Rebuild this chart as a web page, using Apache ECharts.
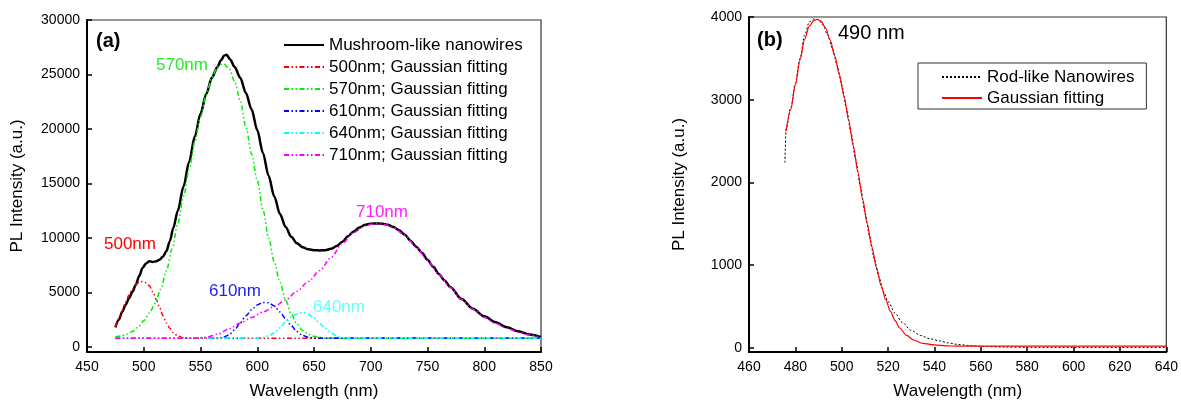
<!DOCTYPE html>
<html>
<head>
<meta charset="utf-8">
<script src="https://cdn.jsdelivr.net/npm/echarts@6/dist/echarts.min.js"></script>
<style>html,body{margin:0;padding:0;background:#fff}#c{width:1181px;height:405px}</style>
</head>
<body>
<div id="c"></div>
<script>
// ---- Panel (a) data ----
const mushroomX = [475,478,481,484,487,490,493,496,499,502,505,508,511,514,517,520,523,526,530,535,540,545,550,555,560,565,568,571,573,576,580,585,590,595,600,605,610,615,620,625,630,635,640,645,650,655,660,665,670,675,680,685,690,695,700,705,710,715,720,725,730,735,740,745,750,755,760,765,770,780,790,800,810,820,830,840,850];
const mushroomY = [1800,2500,3200,3850,4450,5050,5700,6500,7250,7650,7850,7800,7850,8000,8300,8800,9700,10900,12500,14700,17000,19300,21400,23200,24700,25700,26300,26750,26800,26400,25700,24700,23300,21800,19900,17800,15700,13800,12200,11000,10100,9500,9150,8950,8870,8850,8870,9000,9250,9650,10150,10600,10950,11200,11300,11330,11300,11200,11000,10700,10300,9750,9200,8650,8000,7350,6700,6100,5500,4400,3500,2800,2250,1800,1430,1130,900];
const fit500X = [475,478,481,484,487,490,493,496,499,502,505,508,511,514,517,520,523,526,530,535,540,850];
const fit500Y = [1800,2550,3350,4100,4750,5300,5700,5950,6000,5900,5600,5050,4350,3600,2850,2200,1700,1300,1000,830,800,800];
const fit570X = [475,480,485,490,495,500,505,510,515,520,525,530,535,540,545,550,555,560,565,570,575,580,585,590,595,600,605,610,615,620,625,630,635,640,645,650,655,660,670,680,850];
const fit570Y = [900,1000,1150,1400,1800,2400,3100,4000,5300,7000,9000,11300,13800,16300,18800,21100,23100,24700,25700,26000,25600,24400,22600,20200,17700,15300,12600,10000,7800,5900,4300,3000,2100,1500,1150,980,880,830,800,800,800];
const fit610X = [475,565,570,575,580,585,590,595,600,605,610,615,620,625,630,635,640,645,650,850];
const fit610Y = [800,800,880,1100,1550,2200,2850,3400,3850,4080,4050,3750,3200,2600,1950,1400,1050,880,800,800];
const fit640X = [475,600,605,610,615,620,625,630,635,640,645,650,655,660,665,670,675,680,850];
const fit640Y = [800,800,850,1000,1300,1750,2300,2750,3050,3150,3000,2650,2150,1700,1300,1000,850,800,800];
const fit710X = [475,545,555,565,575,585,595,605,615,625,635,645,655,665,675,685,695,700,705,710,715,720,730,740,750,760,770,780,790,800,810,820,830,840,850];
const fit710Y = [800,800,880,1150,1650,2200,2700,3200,3700,4300,5100,6000,7000,8200,9500,10500,11100,11250,11300,11280,11150,10950,10250,9150,7950,6650,5450,4350,3450,2700,2150,1700,1350,1080,880];
const seriesNamesA = ['Mushroom-like nanowires','500nm; Gaussian fitting','570nm; Gaussian fitting','610nm; Gaussian fitting','640nm; Gaussian fitting','710nm; Gaussian fitting'];
const yTicksA = [0,5000,10000,15000,20000,25000,30000];

// ---- Panel (b) data ----
const rodX = [475.5,476,478,480,482,484,486,488,490,492,494,496,498,500,502,504,506,508,510,512,514,516,518,520,523,526,530,534,538,542,546,550,555,560,570,580,600,620,640];
const rodY = [2240,2650,2900,3200,3500,3780,3940,3975,3970,3900,3780,3620,3420,3180,2900,2600,2280,1960,1640,1350,1080,860,680,560,420,310,210,150,110,85,60,42,28,18,10,7,5,5,5];
const fitBX = [476,478,480,482,484,486,488,489.5,491,493,495,497,499,501,503,505,507,509,511,513,515,517,519,521,523,525,528,531,535,540,545,550,560,640];
const fitBY = [2620,2880,3180,3480,3730,3890,3960,3970,3950,3870,3720,3530,3300,3040,2750,2440,2120,1800,1500,1220,970,750,580,440,330,240,150,95,55,35,25,20,20,20];
const seriesNamesB = ['Rod-like Nanowires','Gaussian fitting'];
const yTicksB = [0,1000,2000,3000,4000];

const FONT = "'Liberation Sans', Arial, sans-serif";
const zip = (xs, ys) => xs.map((x, i) => [x, ys[i]]);
const dashDotDot = [5, 2.5, 1.5, 2.5, 1.5, 2.5];

function xAxisCfg(gridIndex, min, max, interval) {
  return {
    type: 'value', gridIndex, min, max, interval,
    name: 'Wavelength (nm)', nameLocation: 'middle', nameGap: 31,
    nameTextStyle: { fontFamily: FONT, fontSize: 17, color: '#000' },
    axisLine: { onZero: false, lineStyle: { color: '#000', width: 2 } },
    axisTick: { inside: true, length: 5, lineStyle: { color: '#000', width: 1.5 } },
    axisLabel: { margin: 8, fontFamily: FONT, fontSize: 14, color: '#000' },
    splitLine: { show: false }
  };
}
function yAxisCfg(gridIndex, min, max, ticks) {
  return {
    type: 'value', gridIndex, min, max,
    name: 'PL Intensity (a.u.)', nameLocation: 'middle', nameGap: 61,
    nameTextStyle: { fontFamily: FONT, fontSize: 17, color: '#000' },
    axisLine: { show: true, onZero: false, lineStyle: { color: '#000', width: 2 } },
    axisTick: { show: true, inside: true, length: 5, customValues: ticks, lineStyle: { color: '#000', width: 1.5 } },
    axisLabel: { margin: 7, fontFamily: FONT, fontSize: 14, color: '#000', customValues: ticks, formatter: v => String(v) },
    splitLine: { show: false }
  };
}
function fitSeries(name, xs, ys, color) {
  return {
    name, type: 'line', xAxisIndex: 0, yAxisIndex: 0, data: zip(xs, ys),
    symbol: 'none', smooth: 0.3, smoothMonotone: 'x',
    lineStyle: { color, width: 1.5, type: dashDotDot }, itemStyle: { color }, z: 3
  };
}

const chart = echarts.init(document.getElementById('c'), null, { renderer: 'canvas' });
chart.setOption({
  animation: false,
  backgroundColor: '#fff',
  textStyle: { fontFamily: FONT },
  grid: [
    { left: 87, right: 640, top: 20, bottom: 52, show: true, borderColor: '#333', borderWidth: 1.2, containLabel: false },
    { left: 749, right: 14, top: 17, bottom: 52, show: true, borderColor: '#333', borderWidth: 1.2, containLabel: false }
  ],
  xAxis: [xAxisCfg(0, 450, 850, 50), xAxisCfg(1, 460, 640, 20)],
  yAxis: [yAxisCfg(0, -470, 30000, yTicksA), yAxisCfg(1, -50, 4000, yTicksB)],
  legend: [
    {
      data: seriesNamesA, orient: 'vertical', left: 283, top: 35, padding: 0,
      itemWidth: 40, itemHeight: 14, itemGap: 2,
      itemStyle: { opacity: 0, borderWidth: 0 },
      textStyle: { fontFamily: FONT, fontSize: 17, color: '#000', lineHeight: 20 }
    },
    {
      data: seriesNamesB, orient: 'vertical', left: 918, top: 63, padding: [4, 12, 1, 23],
      borderColor: '#333', borderWidth: 1,
      itemWidth: 40, itemHeight: 14, itemGap: 1,
      itemStyle: { opacity: 0, borderWidth: 0 },
      textStyle: { fontFamily: FONT, fontSize: 17, color: '#000', lineHeight: 20 }
    }
  ],
  series: [
    {
      name: seriesNamesA[0], type: 'line', xAxisIndex: 0, yAxisIndex: 0,
      data: zip(mushroomX, mushroomY), symbol: 'none', smooth: 0.3, smoothMonotone: 'x',
      lineStyle: { color: '#000', width: 2.5 }, itemStyle: { color: '#000' }, z: 2
    },
    fitSeries(seriesNamesA[1], fit500X, fit500Y, '#ff0000'),
    fitSeries(seriesNamesA[2], fit570X, fit570Y, '#00ee00'),
    fitSeries(seriesNamesA[3], fit610X, fit610Y, '#0000ff'),
    fitSeries(seriesNamesA[4], fit640X, fit640Y, '#00ffff'),
    fitSeries(seriesNamesA[5], fit710X, fit710Y, '#ff00ff'),
    {
      name: seriesNamesB[0], type: 'line', xAxisIndex: 1, yAxisIndex: 1,
      data: zip(rodX, rodY), symbol: 'none', smooth: 0.3, smoothMonotone: 'x',
      lineStyle: { color: '#000', width: 1, type: [2, 2] }, itemStyle: { color: '#000' }, z: 2
    },
    {
      name: seriesNamesB[1], type: 'line', xAxisIndex: 1, yAxisIndex: 1,
      data: zip(fitBX, fitBY), symbol: 'none', smooth: 0.3, smoothMonotone: 'x',
      lineStyle: { color: '#ff0000', width: 1.2 }, itemStyle: { color: '#ff0000' }, z: 3
    }
  ],
  graphic: [
    { type: 'text', x: 96, y: 41, style: { text: '(a)', font: 'bold 20px ' + FONT, fill: '#000', verticalAlign: 'middle' } },
    { type: 'text', x: 757, y: 40, style: { text: '(b)', font: 'bold 20px ' + FONT, fill: '#000', verticalAlign: 'middle' } },
    { type: 'text', x: 156, y: 65, style: { text: '570nm', font: '17px ' + FONT, fill: '#22ee22', verticalAlign: 'middle' } },
    { type: 'text', x: 104, y: 244, style: { text: '500nm', font: '17px ' + FONT, fill: '#ff0000', verticalAlign: 'middle' } },
    { type: 'text', x: 209, y: 291, style: { text: '610nm', font: '17px ' + FONT, fill: '#2222ee', verticalAlign: 'middle' } },
    { type: 'text', x: 313, y: 307, style: { text: '640nm', font: '17px ' + FONT, fill: '#66ffff', verticalAlign: 'middle' } },
    { type: 'text', x: 356, y: 212, style: { text: '710nm', font: '17px ' + FONT, fill: '#ff22ff', verticalAlign: 'middle' } },
    { type: 'text', x: 838, y: 33, style: { text: '490 nm', font: '20px ' + FONT, fill: '#000', verticalAlign: 'middle' } }
  ]
});
</script>
</body>
</html>
